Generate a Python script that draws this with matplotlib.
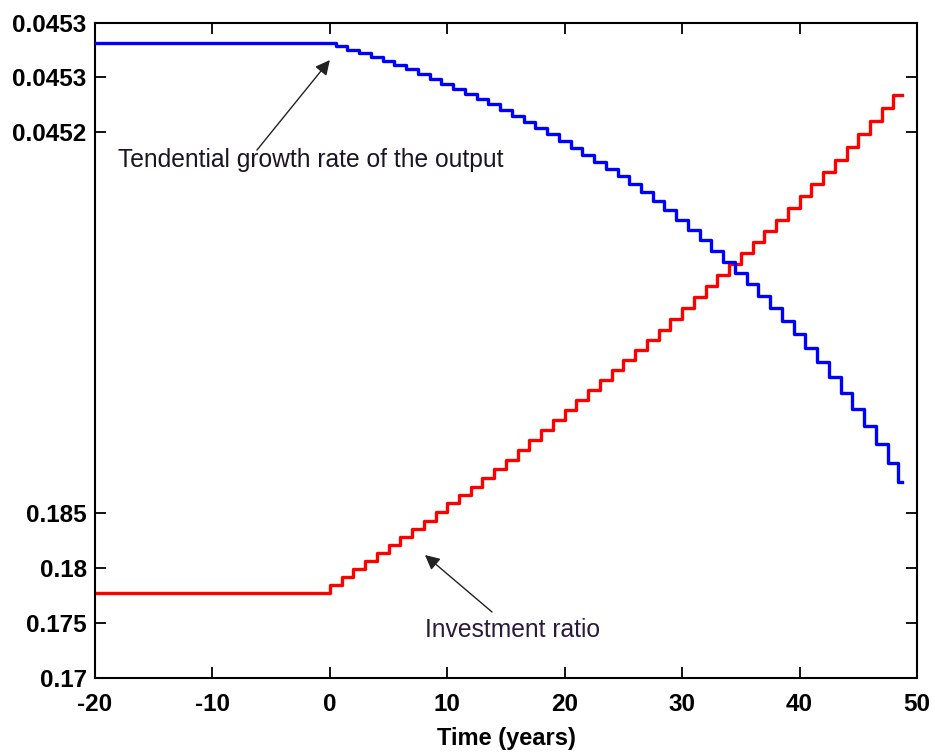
import matplotlib
matplotlib.use('Agg')
import matplotlib.pyplot as plt

plt.rcParams['font.family'] = ['Liberation Sans', 'DejaVu Sans']

# investment ratio (yearly, step changes at each year), flat before year 0
inv_years = [-20] + list(range(0, 49)) + [48.7]
inv_ratio = [0.17773,
             0.17845, 0.17918, 0.17991, 0.18064, 0.18136, 0.18209, 0.18282, 0.18355, 0.18427, 0.18509,
             0.18591, 0.18664, 0.18736, 0.18818, 0.18900, 0.18982, 0.19073, 0.19164, 0.19255, 0.19345,
             0.19436, 0.19527, 0.19618, 0.19709, 0.19800, 0.19891, 0.19982, 0.20073, 0.20164, 0.20264,
             0.20364, 0.20464, 0.20564, 0.20664, 0.20764, 0.20864, 0.20964, 0.21064, 0.21164, 0.21273,
             0.21382, 0.21491, 0.21600, 0.21709, 0.21827, 0.21945, 0.22064, 0.22182, 0.22300,
             0.22300]

# tendential growth rate of the output
growth_years = [-20] + list(range(0, 49)) + [48.7]
growth_rate = [0.0452817,
               0.0452817, 0.0452789, 0.0452752, 0.0452725, 0.0452688, 0.0452651, 0.0452615, 0.0452578,
               0.0452532, 0.0452486, 0.0452440, 0.0452395, 0.0452349, 0.0452303, 0.0452257, 0.0452202,
               0.0452147, 0.0452092, 0.0452037, 0.0451982, 0.0451917, 0.0451853, 0.0451789, 0.0451725,
               0.0451661, 0.0451596, 0.0451523, 0.0451450, 0.0451367, 0.0451284, 0.0451193, 0.0451101,
               0.0451009, 0.0450908, 0.0450807, 0.0450706, 0.0450606, 0.0450495, 0.0450385, 0.0450266,
               0.0450147, 0.0450018, 0.0449890, 0.0449752, 0.0449606, 0.0449459, 0.0449303, 0.0449138,
               0.0448963,
               0.0448789]

x_ticks = [-20, -10, 0, 10, 20, 30, 40, 50]
inv_ticks = [0.17, 0.175, 0.18, 0.185]
inv_labels = ['0.17', '0.175', '0.18', '0.185']
growth_ticks = [0.0452, 0.04525, 0.0453]
growth_labels = ['0.0452', '0.0453', '0.0453']

fig = plt.figure(figsize=(9.35, 7.54), dpi=100)
rect = [0.1016, 0.1008, 0.8791, 0.8687]

ax1 = fig.add_axes(rect)
ax1.plot(inv_years, inv_ratio, color='#ff0000', lw=2.4, drawstyle='steps-post')
ax1.set_xlim(-20, 50)
ax1.set_ylim(0.17, 0.229545)
ax1.set_xticks(x_ticks)
ax1.set_xticklabels([str(t) for t in x_ticks])
ax1.set_yticks(inv_ticks)
ax1.set_yticklabels(inv_labels)
ax1.tick_params(direction='in', length=8, width=1.3, top=True, right=True,
                labelsize=17.5, pad=6)
ax1.tick_params(axis='x', pad=11)
for lab in ax1.get_xticklabels() + ax1.get_yticklabels():
    lab.set_fontweight('bold')
for sp in ax1.spines.values():
    sp.set_linewidth(1.5)
ax1.set_xlabel('Time (years)', fontsize=17, fontweight='bold', labelpad=8)

ax2 = fig.add_axes(rect, sharex=ax1)
ax2.patch.set_visible(False)
for sp in ax2.spines.values():
    sp.set_visible(False)
ax2.plot(growth_years, growth_rate, color='#0000ff', lw=2.4, drawstyle='steps-mid')
ax2.set_ylim(0.04469908, 0.0453)
ax2.set_yticks(growth_ticks)
ax2.set_yticklabels(growth_labels)
ax2.tick_params(axis='y', direction='in', length=8, width=1.3, left=True, right=True,
                labelsize=17.5, pad=6)
ax2.tick_params(axis='x', bottom=False, top=False, labelbottom=False)
for lab in ax2.get_yticklabels():
    lab.set_fontweight('bold')

arrow = dict(arrowstyle='-|>', color='#222222', lw=1.0, mutation_scale=22, shrinkA=0, shrinkB=0)
ax2.annotate('', xy=(0, 0.045266), xycoords='data',
             xytext=(0.197, 0.806), textcoords='axes fraction', arrowprops=arrow)
ax2.text(0.028, 0.791, 'Tendential growth rate of the output', transform=ax2.transAxes,
         fontsize=17.7, color='#1a1424', va='center', ha='left')

ax1.annotate('', xy=(8.1, 0.18118), xycoords='data',
             xytext=(0.483, 0.1008), textcoords='axes fraction', arrowprops=arrow)
ax1.text(0.401, 0.073, 'Investment ratio', transform=ax1.transAxes,
         fontsize=17.7, color='#2a1a3a', va='center', ha='left')

fig.savefig('out.png', dpi=100)
